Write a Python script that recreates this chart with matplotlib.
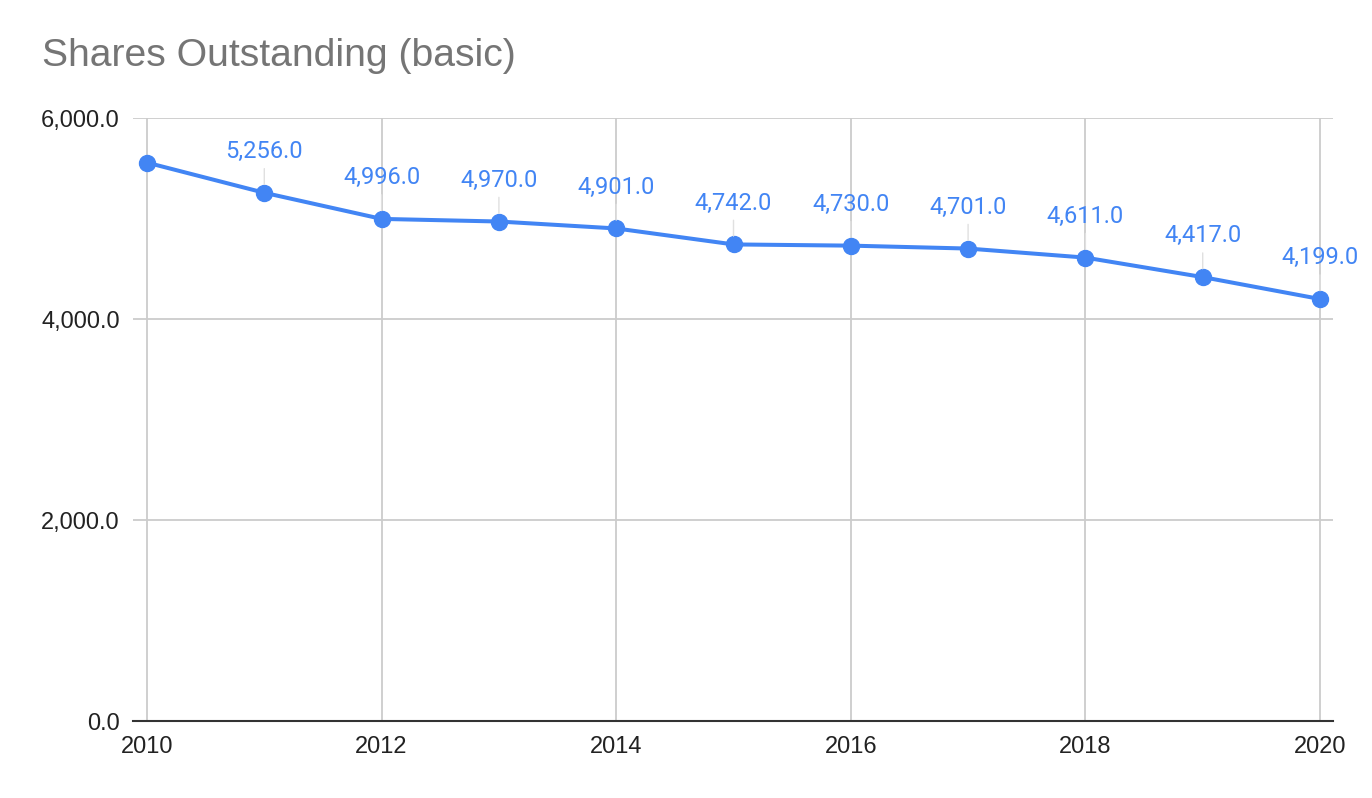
import matplotlib.pyplot as plt
from matplotlib.ticker import FuncFormatter

# Data
years = [2010, 2011, 2012, 2013, 2014, 2015, 2016, 2017, 2018, 2019, 2020]
shares = [5556.0, 5256.0, 4996.0, 4970.0, 4901.0, 4742.0, 4730.0, 4701.0, 4611.0, 4417.0, 4199.0]
# the 2010 label is hidden in the original
show_label = [False] + [True] * 10

x_ticks = [2010, 2012, 2014, 2016, 2018, 2020]
y_ticks = [0, 2000, 4000, 6000]

plt.rcParams['font.family'] = ['Liberation Sans', 'DejaVu Sans']

blue = '#4285f4'
grid_c = '#cccccc'

fig = plt.figure(figsize=(13.72, 7.98), dpi=100)
ax = fig.add_axes([133 / 1372, 1 - 721 / 798, 1200 / 1372, 603 / 798])

ax.plot(years, shares, color=blue, linewidth=2.9, marker='o', markersize=11.5,
        zorder=3, clip_on=False)

for x, y, s in zip(years, shares, show_label):
    if not s:
        continue
    ax.annotate(f"{y:,.1f}", xy=(x, y), xytext=(0, 25), textcoords='offset points',
                ha='center', va='baseline', color=blue, fontsize=17,
                family=['Roboto', 'DejaVu Sans'],
                arrowprops=dict(arrowstyle='-', color='#e0e0e0', lw=1,
                                shrinkA=2, shrinkB=6))

ax.set_xlim(2010 - 14 / 117.3, 2020 + 13 / 117.3)
ax.set_ylim(0, 6000)
ax.set_xticks(x_ticks)
ax.set_yticks(y_ticks)
ax.yaxis.set_major_formatter(FuncFormatter(lambda v, p: f"{v:,.1f}"))

ax.grid(True, color=grid_c, linewidth=1.3)
ax.set_axisbelow(True)
for side in ['top', 'right', 'left']:
    ax.spines[side].set_visible(False)
ax.spines['bottom'].set_color('#333333')
ax.spines['bottom'].set_linewidth(1.5)
ax.spines['bottom'].set_zorder(2)
ax.tick_params(axis='both', length=0, labelsize=17, colors='#222222')
ax.tick_params(axis='y', pad=9.5)
ax.tick_params(axis='x', pad=10.5)

fig.text(42 / 1372, 1 - 66 / 798, "Shares Outstanding (basic)", color='#757575',
         fontsize=28.2, ha='left', va='baseline')

fig.savefig('out.png', dpi=100, facecolor='white')
